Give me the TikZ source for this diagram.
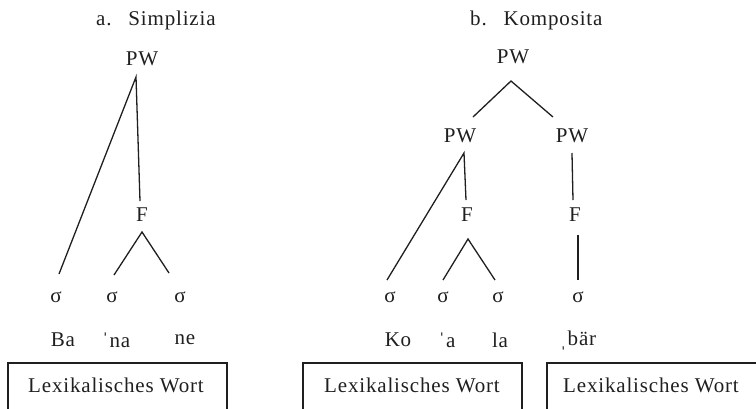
\documentclass[tikz,border=0pt]{standalone}
\usepackage{fontspec}
\setmainfont{Liberation Serif}[LetterSpace=4]
\begin{document}
\begin{tikzpicture}[x=1pt,y=-1pt,
  lbl/.style={font=\fontsize{21}{24}\selectfont, inner sep=0pt, text=black!88},
  edge/.style={line width=1.3pt, black!88},
  wordbox/.style={line width=1.3pt, black!88}]
\useasboundingbox (0,0) rectangle (756,408);

% ---- a. Simplizia ----
\node[lbl, anchor=west] (ta) at (96,20) {a.\hspace{0.8em}Simplizia};
\node[lbl] (pwa) at (142,59) {PW};
\node[lbl] (fa) at (142,215) {F};
\node[lbl] (sa1) at (56,297) {σ};
\node[lbl] (sa2) at (112,297) {σ};
\node[lbl] (sa3) at (180,297) {σ};
\node[lbl] (ya1) at (63,340) {Ba};
\node[lbl] (ya2) at (116,340) {ˈna};
\node[lbl] (ya3) at (185,340) {ne};

\coordinate (pwa-f) at (136,77);
\coordinate (fa-h) at (140,201);
\coordinate (fa-f) at (142,232);
\coordinate (sa1-h) at (59,274);
\coordinate (sa2-h) at (114,275);
\coordinate (sa3-h) at (169,273);
\draw[edge] (sa1-h) -- (pwa-f) -- (fa-h);
\draw[edge] (sa2-h) -- (fa-f) -- (sa3-h);

% ---- b. Komposita ----
\node[lbl, anchor=west] (tb) at (470,20) {b.\hspace{0.8em}Komposita};
\node[lbl] (pwb) at (513,57) {PW};
\node[lbl] (pwl) at (460,136) {PW};
\node[lbl] (pwr) at (572,136) {PW};
\node[lbl] (fb1) at (467,215) {F};
\node[lbl] (fb2) at (575,215) {F};
\node[lbl] (sb1) at (390,297) {σ};
\node[lbl] (sb2) at (443,297) {σ};
\node[lbl] (sb3) at (498,297) {σ};
\node[lbl] (sb4) at (578,297) {σ};
\node[lbl] (yb1) at (398,340) {Ko};
\node[lbl] (yb2) at (447,340) {ˈa};
\node[lbl] (yb3) at (500,340) {la};
\node[lbl] (yb4) at (578,340) {ˌbär};

\coordinate (pwb-f) at (511,81);
\coordinate (pwl-h) at (473,117);
\coordinate (pwr-h) at (553,117);
\coordinate (pwl-f) at (464,153);
\coordinate (fb1-h) at (466,200);
\coordinate (sb1-h) at (387,280);
\coordinate (fb1-f) at (468,239);
\coordinate (sb2-h) at (443,280);
\coordinate (sb3-h) at (495,280);
\coordinate (pwr-f) at (572,153);
\coordinate (fb2-h) at (573,200);
\coordinate (fb2-f) at (578,235);
\coordinate (sb4-h) at (578,280);
\draw[edge] (pwl-h) -- (pwb-f) -- (pwr-h);
\draw[edge] (sb1-h) -- (pwl-f) -- (fb1-h);
\draw[edge] (sb2-h) -- (fb1-f) -- (sb3-h);
\draw[edge] (pwr-f) -- (fb2-h);
\draw[edge] (fb2-f) -- (sb4-h);

% ---- word boxes, open at the bottom ----
\draw[wordbox] (8,412) -- (8,363) -- (227,363) -- (227,412);
\draw[wordbox] (303,412) -- (303,363) -- (522,363) -- (522,412);
\draw[wordbox] (547,412) -- (547,363) -- (758,363);
\node[lbl] (w1) at (116,385) {Lexikalisches Wort};
\node[lbl] (w2) at (412,385) {Lexikalisches Wort};
\node[lbl] (w3) at (651,385) {Lexikalisches Wort};
\end{tikzpicture}
\end{document}
